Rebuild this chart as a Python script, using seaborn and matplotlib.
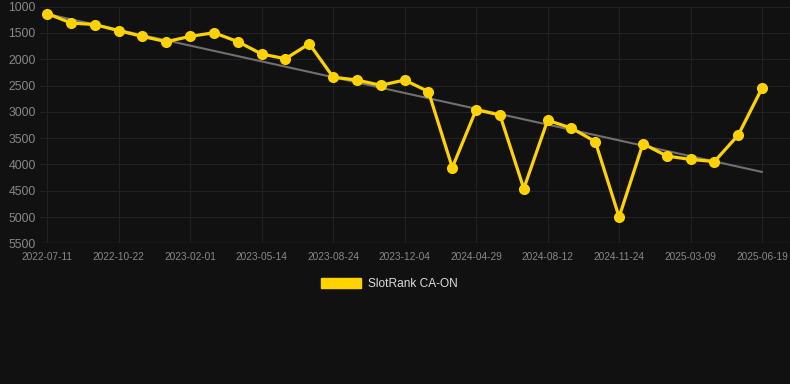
#!/usr/bin/env python3
# SlotRank CA-ON rank history with linear trend

import numpy as np
import pandas as pd
import seaborn as sns
import matplotlib.pyplot as plt
from matplotlib.patches import Patch

dates = [
    "2022-07-11", "2022-08-14", "2022-09-17", "2022-10-22", "2022-11-25",
    "2022-12-29", "2023-02-01", "2023-03-07", "2023-04-10", "2023-05-14",
    "2023-06-17", "2023-07-21", "2023-08-24", "2023-09-27", "2023-10-31",
    "2023-12-04", "2024-02-19", "2024-03-25", "2024-04-29", "2024-06-02",
    "2024-07-07", "2024-08-12", "2024-09-15", "2024-10-20", "2024-11-24",
    "2024-12-28", "2025-02-02", "2025-03-09", "2025-04-12", "2025-05-16",
    "2025-06-19",
]
ranks = [
    1130, 1310, 1340, 1455, 1565, 1665, 1565, 1495, 1665, 1900,
    1990, 1705, 2340, 2395, 2495, 2395, 2615, 4060, 2960, 3060,
    4460, 3160, 3310, 3565, 5000, 3605, 3840, 3905, 3945, 3440,
    2545,
]
y_ticks = [1000, 1500, 2000, 2500, 3000, 3500, 4000, 4500, 5000, 5500]
series_name = "SlotRank CA-ON"

BG = "#111111"
GOLD = "#FFD200"

df = pd.DataFrame({"date": dates, "rank": ranks})
df["idx"] = np.arange(len(df))

sns.set_style("dark")
plt.rcParams.update({
    "font.family": ["Liberation Sans", "DejaVu Sans"],
    "figure.facecolor": BG,
    "axes.facecolor": BG,
})

fig = plt.figure(figsize=(7.9, 3.84), dpi=100)
ax = fig.add_axes([40 / 790, 1 - 243.3 / 384, 750 / 790, (243.3 - 6.7) / 384])
ax.set_facecolor(BG)

# trend line
sns.regplot(data=df, x="idx", y="rank", ax=ax, scatter=False, ci=None,
            truncate=True, line_kws={"color": "#707070", "linewidth": 1.5, "zorder": 2})

sns.lineplot(data=df, x="idx", y="rank", ax=ax, color=GOLD, linewidth=2.3,
             marker="o", markersize=8, markeredgewidth=0, zorder=3)

ax.set_xlim(-0.3, 31.17)
ax.set_ylim(5500, 1000)
ax.set_yticks(y_ticks)
ax.set_yticklabels([str(v) for v in y_ticks])
tick_pos = list(range(0, len(dates), 3))
ax.set_xticks(tick_pos)
ax.set_xticklabels([dates[i] for i in tick_pos])

ax.grid(True, color="#222222", linewidth=0.8)
for s in ax.spines.values():
    s.set_visible(False)
ax.axhline(5500, color="#2c2c2c", linewidth=1.0, zorder=1)
ax.tick_params(axis="y", colors="#888888", labelsize=8.8, length=0, pad=3)
ax.tick_params(axis="x", colors="#888888", labelsize=7.3, length=0, pad=6)
ax.set_xlabel("")
ax.set_ylabel("")

handle = Patch(facecolor=GOLD, edgecolor=GOLD, label=series_name)
fig.legend(handles=[handle], loc="center", bbox_to_anchor=(0.493, 1 - 284 / 384),
           frameon=False, fontsize=8.6, labelcolor="#dddddd",
           handlelength=3.3, handleheight=0.9, handletextpad=0.6)

fig.savefig("out.png", dpi=100, facecolor=BG)
plt.close(fig)
